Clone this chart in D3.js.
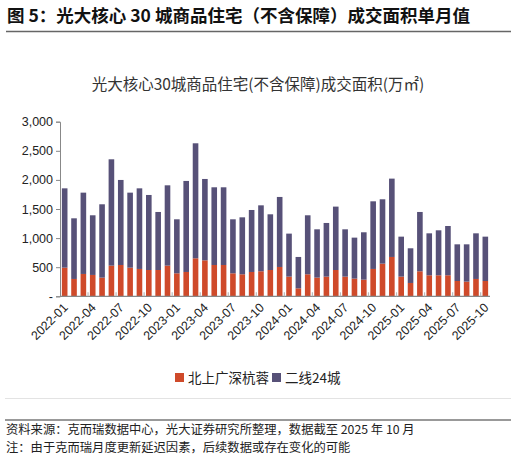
<!DOCTYPE html>
<html>
<head>
<meta charset="utf-8">
<script src="https://cdn.jsdelivr.net/npm/d3@7"></script>
<style>
  body { margin: 0; background: #fff; }
  svg { display: block; font-family: "Noto Sans CJK SC", "Noto Sans", sans-serif; }
</style>
</head>
<body>
<svg id="chart" width="516" height="458"></svg>
<script>
// months 2022-01 .. 2025-10
const months = [];
for (let y = 2022; y <= 2025; y++) {
    for (let m = 1; m <= 12; m++) {
        if (y === 2025 && m > 10) break;
        months.push(`${y}-${String(m).padStart(2, "0")}`);
    }
}

// 北上广深杭蓉 (bottom, red)
const tier1 = [492, 298, 384, 367, 321, 527, 538, 492, 470, 452, 452, 527,
    395, 418, 653, 618, 538, 538, 395, 378, 418, 430, 452, 504,
    338, 137, 378, 321, 338, 452, 338, 304, 286, 470, 561, 676,
    338, 229, 430, 361, 361, 361, 263, 252, 298, 263];

const totals = [1855, 1340, 1781, 1392, 1581, 2354, 1999, 1781, 1855, 1741, 1449, 1907,
    1323, 1982, 2629, 2016, 1873, 1873, 1323, 1357, 1483, 1563, 1409, 1707,
    1077, 676, 1392, 1151, 1260, 1541, 1151, 1008, 1100, 1632, 1667, 2022,
    1025, 825, 1449, 1082, 1134, 1208, 893, 893, 1082, 1025];

// 二线24城 (top, purple)
const tier2 = totals.map((t, i) => t - tier1[i]);

const seriesNames = ["北上广深杭蓉", "二线24城"];
const colors = ["#cf4a2a", "#575178"];
const yTicks = [0, 500, 1000, 1500, 2000, 2500, 3000];

const svg = d3.select("#chart");

// header
svg.append("text")
    .attr("x", 7).attr("y", 22)
    .attr("font-size", 17.5).attr("font-weight", "bold").attr("fill", "#111")
    .text("图 5：光大核心 30 城商品住宅（不含保障）成交面积单月值");

svg.append("line")
    .attr("x1", 6).attr("x2", 511).attr("y1", 31.5).attr("y2", 31.5)
    .attr("stroke", "#666").attr("stroke-width", 1.5);

// chart title
svg.append("text")
    .attr("x", 258).attr("y", 90)
    .attr("text-anchor", "middle")
    .attr("font-size", 15.5).attr("fill", "#333")
    .text("光大核心30城商品住宅(不含保障)成交面积(万㎡)");

const x = d3.scaleBand()
    .domain(months)
    .range([60, 490])
    .paddingInner(0.4)
    .paddingOuter(0.2);

const y = d3.scaleLinear()
    .domain([0, 3000])
    .range([296.3, 121.7]);

const stackData = months.map((m, i) => ({ month: m, a: tier1[i], b: tier2[i] }));
const stacked = d3.stack().keys(["a", "b"])(stackData);

svg.append("g")
    .selectAll("g")
    .data(stacked)
    .join("g")
    .attr("fill", (d, i) => colors[i])
    .selectAll("rect")
    .data(d => d)
    .join("rect")
    .attr("x", d => x(d.data.month))
    .attr("width", x.bandwidth())
    .attr("y", d => y(d[1]))
    .attr("height", d => y(d[0]) - y(d[1]));

// y axis
const yAxis = svg.append("g")
    .attr("transform", "translate(60,0)")
    .call(d3.axisLeft(y)
        .tickValues(yTicks)
        .tickSize(4)
        .tickFormat(d => d === 0 ? "-" : d3.format(",")(d)));
yAxis.select(".domain").attr("stroke", "#888");
yAxis.selectAll(".tick line").attr("stroke", "#888");
yAxis.selectAll(".tick text")
    .attr("font-size", 12.5).attr("fill", "#222")
    .attr("font-family", "Liberation Sans, Arial, sans-serif")
    .attr("x", -7);

// x axis
const xAxisY = y(0);
svg.append("line")
    .attr("x1", 60).attr("x2", 490)
    .attr("y1", xAxisY).attr("y2", xAxisY)
    .attr("stroke", "#888").attr("stroke-width", 1.2);

// small quarter ticks at band boundaries
const step = x.step();
const start = x.range()[0] + x.paddingOuter() * step - x.paddingInner() * step / 2;
const tickIdx = d3.range(3, months.length, 3);
svg.append("g")
    .selectAll("line")
    .data(tickIdx)
    .join("line")
    .attr("x1", i => start + i * step)
    .attr("x2", i => start + i * step)
    .attr("y1", xAxisY)
    .attr("y2", xAxisY - 4)
    .attr("stroke", "#bbb").attr("stroke-width", 1.2);

const labelMonths = months.filter((m, i) => i % 3 === 0);
svg.append("g")
    .selectAll("text")
    .data(labelMonths)
    .join("text")
    .attr("transform", m => `translate(${x(m) + x.bandwidth() / 2 + 4},${xAxisY + 12}) rotate(-45)`)
    .attr("text-anchor", "end")
    .attr("font-size", 12.5).attr("fill", "#222")
    .attr("font-family", "Liberation Sans, Arial, sans-serif")
    .text(m => m);

// legend
const legend = svg.append("g").attr("transform", "translate(175,378)");
const legendX = [0, 97];
seriesNames.forEach((name, i) => {
    legend.append("rect")
        .attr("x", legendX[i]).attr("y", -5)
        .attr("width", 9).attr("height", 9)
        .attr("fill", colors[i]);
    legend.append("text")
        .attr("x", legendX[i] + 13).attr("y", 4.5)
        .attr("font-size", 13.5).attr("fill", "#222")
        .text(name);
});

// footer
svg.append("line")
    .attr("x1", 5).attr("x2", 511).attr("y1", 398.5).attr("y2", 398.5)
    .attr("stroke", "#e3e3e3").attr("stroke-width", 1);
svg.append("line")
    .attr("x1", 5).attr("x2", 511).attr("y1", 420).attr("y2", 420)
    .attr("stroke", "#777").attr("stroke-width", 1.5);

svg.append("text")
    .attr("x", 6).attr("y", 434)
    .attr("font-size", 12.3).attr("fill", "#222")
    .text("资料来源：克而瑞数据中心，光大证券研究所整理，数据截至 2025 年 10 月");
svg.append("text")
    .attr("x", 6).attr("y", 452)
    .attr("font-size", 12.3).attr("fill", "#222")
    .text("注：由于克而瑞月度更新延迟因素，后续数据或存在变化的可能");
</script>
</body>
</html>
